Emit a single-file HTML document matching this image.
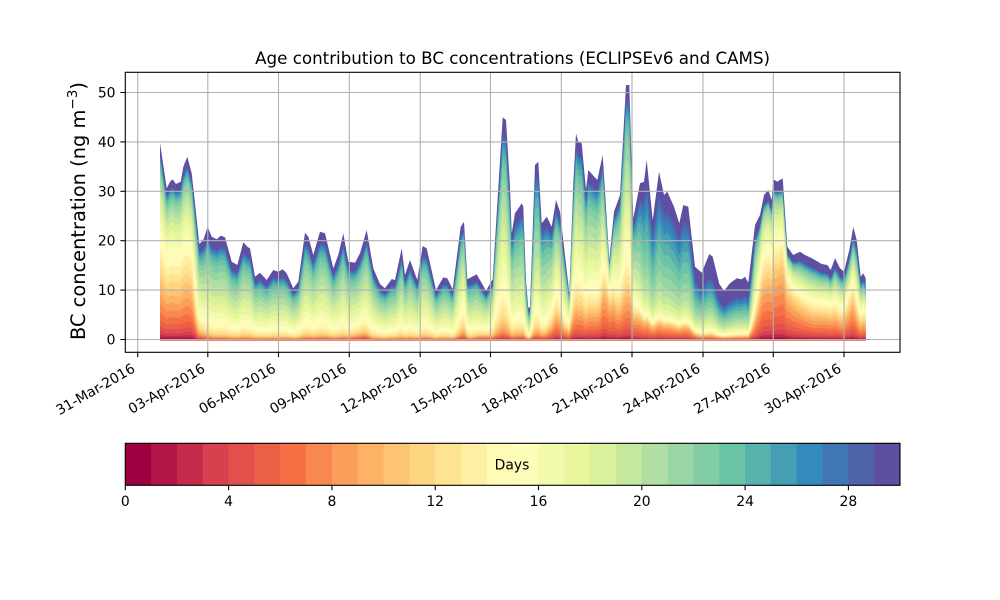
<!DOCTYPE html>
<html><head><meta charset="utf-8">
<style>
html,body{margin:0;padding:0;background:#fff;}
svg{display:block;font-family:"DejaVu Sans","Liberation Sans",sans-serif;}
</style></head>
<body>
<svg id="s" width="1000" height="600" viewBox="0 0 1000 600" xmlns="http://www.w3.org/2000/svg">
<rect width="1000" height="600" fill="#fff"/>
<g id="data"></g>
<rect x="160" y="339.6" width="705.7" height="1.3" fill="#f07a50"/>
<g stroke="#b0b0b0" stroke-width="1.1" fill="none">
<line x1="137.7" y1="72.3" x2="137.7" y2="352.3"/>
<line x1="207.8" y1="72.3" x2="207.8" y2="352.3"/>
<line x1="278.5" y1="72.3" x2="278.5" y2="352.3"/>
<line x1="349.3" y1="72.3" x2="349.3" y2="352.3"/>
<line x1="420.2" y1="72.3" x2="420.2" y2="352.3"/>
<line x1="490.5" y1="72.3" x2="490.5" y2="352.3"/>
<line x1="561.3" y1="72.3" x2="561.3" y2="352.3"/>
<line x1="632.0" y1="72.3" x2="632.0" y2="352.3"/>
<line x1="703.0" y1="72.3" x2="703.0" y2="352.3"/>
<line x1="773.3" y1="72.3" x2="773.3" y2="352.3"/>
<line x1="844.0" y1="72.3" x2="844.0" y2="352.3"/>
<line x1="125.3" y1="339.5" x2="900" y2="339.5"/>
<line x1="125.3" y1="290.1" x2="900" y2="290.1"/>
<line x1="125.3" y1="240.7" x2="900" y2="240.7"/>
<line x1="125.3" y1="191.3" x2="900" y2="191.3"/>
<line x1="125.3" y1="141.9" x2="900" y2="141.9"/>
<line x1="125.3" y1="92.5" x2="900" y2="92.5"/>
</g>
<rect x="125.3" y="72.3" width="774.7" height="280" fill="none" stroke="#000" stroke-width="1.1"/>
<g stroke="#000" stroke-width="1.1">
<line x1="137.7" y1="352.3" x2="137.7" y2="357.2"/>
<line x1="207.8" y1="352.3" x2="207.8" y2="357.2"/>
<line x1="278.5" y1="352.3" x2="278.5" y2="357.2"/>
<line x1="349.3" y1="352.3" x2="349.3" y2="357.2"/>
<line x1="420.2" y1="352.3" x2="420.2" y2="357.2"/>
<line x1="490.5" y1="352.3" x2="490.5" y2="357.2"/>
<line x1="561.3" y1="352.3" x2="561.3" y2="357.2"/>
<line x1="632.0" y1="352.3" x2="632.0" y2="357.2"/>
<line x1="703.0" y1="352.3" x2="703.0" y2="357.2"/>
<line x1="773.3" y1="352.3" x2="773.3" y2="357.2"/>
<line x1="844.0" y1="352.3" x2="844.0" y2="357.2"/>
<line x1="120.4" y1="339.5" x2="125.3" y2="339.5"/>
<line x1="120.4" y1="290.1" x2="125.3" y2="290.1"/>
<line x1="120.4" y1="240.7" x2="125.3" y2="240.7"/>
<line x1="120.4" y1="191.3" x2="125.3" y2="191.3"/>
<line x1="120.4" y1="141.9" x2="125.3" y2="141.9"/>
<line x1="120.4" y1="92.5" x2="125.3" y2="92.5"/>
</g>
<g font-size="13.9" fill="#000" text-anchor="end">
<text x="115.5" y="344.5">0</text>
<text x="115.5" y="295.1">10</text>
<text x="115.5" y="245.7">20</text>
<text x="115.5" y="196.3">30</text>
<text x="115.5" y="146.9">40</text>
<text x="115.5" y="97.5">50</text>
</g>
<g font-size="13.9" fill="#000" text-anchor="end">
<text x="136.0" y="371.2" transform="rotate(-30 136.0 371.2)">31-Mar-2016</text>
<text x="206.1" y="371.2" transform="rotate(-30 206.1 371.2)">03-Apr-2016</text>
<text x="276.8" y="371.2" transform="rotate(-30 276.8 371.2)">06-Apr-2016</text>
<text x="347.6" y="371.2" transform="rotate(-30 347.6 371.2)">09-Apr-2016</text>
<text x="418.5" y="371.2" transform="rotate(-30 418.5 371.2)">12-Apr-2016</text>
<text x="488.8" y="371.2" transform="rotate(-30 488.8 371.2)">15-Apr-2016</text>
<text x="559.6" y="371.2" transform="rotate(-30 559.6 371.2)">18-Apr-2016</text>
<text x="630.3" y="371.2" transform="rotate(-30 630.3 371.2)">21-Apr-2016</text>
<text x="701.3" y="371.2" transform="rotate(-30 701.3 371.2)">24-Apr-2016</text>
<text x="771.6" y="371.2" transform="rotate(-30 771.6 371.2)">27-Apr-2016</text>
<text x="842.3" y="371.2" transform="rotate(-30 842.3 371.2)">30-Apr-2016</text>
</g>
<text x="512.6" y="64" font-size="16.7" text-anchor="middle" fill="#000">Age contribution to BC concentrations (ECLIPSEv6 and CAMS)</text>
<text transform="translate(85,211) rotate(-90)" font-size="19.4" text-anchor="middle" fill="#000">BC concentration (ng m<tspan dy="-8" font-size="13.6">−3</tspan><tspan dy="8">)</tspan></text>
<g id="cbar"></g>
<rect x="125.3" y="443.3" width="774.7" height="42" fill="none" stroke="#000" stroke-width="1.1"/>
<text x="512" y="469.5" font-size="13.9" text-anchor="middle" fill="#000">Days</text>
<g stroke="#000" stroke-width="1.1">
<line x1="125.3" y1="485.3" x2="125.3" y2="490.2"/>
<line x1="228.6" y1="485.3" x2="228.6" y2="490.2"/>
<line x1="331.9" y1="485.3" x2="331.9" y2="490.2"/>
<line x1="435.2" y1="485.3" x2="435.2" y2="490.2"/>
<line x1="538.5" y1="485.3" x2="538.5" y2="490.2"/>
<line x1="641.8" y1="485.3" x2="641.8" y2="490.2"/>
<line x1="745.1" y1="485.3" x2="745.1" y2="490.2"/>
<line x1="848.4" y1="485.3" x2="848.4" y2="490.2"/>
</g>
<g font-size="13.9" text-anchor="middle" fill="#000">
<text x="125.3" y="506">0</text>
<text x="228.6" y="506">4</text>
<text x="331.9" y="506">8</text>
<text x="435.2" y="506">12</text>
<text x="538.5" y="506">16</text>
<text x="641.8" y="506">20</text>
<text x="745.1" y="506">24</text>
<text x="848.4" y="506">28</text>
</g>
</svg>
<script>
(function(){
var NS="http://www.w3.org/2000/svg";
var spec=[[158,1,66],[213,62,79],[244,109,67],[253,174,97],[254,224,139],[255,255,191],[230,245,152],[171,221,164],[102,194,165],[50,136,189],[94,79,162]];
function cm(t){t=Math.max(0,Math.min(1,t));var s=t*10,i=Math.min(9,Math.floor(s)),f=s-i,a=spec[i],b=spec[i+1];
return "rgb("+[0,1,2].map(function(j){return Math.round(a[j]+(b[j]-a[j])*f);}).join(",")+")";}
var TC=[[160,142.7],[166.7,188.3],[170,181.7],[172.7,179.3],[176,184],[180.7,181.7],[183.3,166.7],[187.3,156.7],[191.7,173.3],[195,203.3],[199.3,244],[203.3,240],[207.7,226.7],[211.7,236.7],[216.7,239.3],[220.7,235.7],[225,237.3],[231.7,261.7],[237.3,265],[243.3,242.3],[247.3,246.7],[250,248.3],[255,276.7],[260,272.7],[266.7,280],[273.3,270],[278.3,271.7],[282.7,269.3],[286.7,273.3],[293.3,288.3],[298.3,281.7],[305,232.7],[308.3,236.7],[313.3,255],[320,231.7],[325,233.3],[333.3,268.3],[338.3,255],[343.3,233.3],[348.3,261.7],[355,262.7],[360,253.3],[366.7,230],[373.3,268.3],[380,284],[385,288.3],[391.7,279],[395,280],[401.7,248.3],[405,275],[410,260],[417.3,280],[422.7,246],[426.7,248.3],[436,290],[443.3,277.3],[447.3,278.3],[452.7,289.3],[460.7,226.7],[464,221.7],[467.3,279.3],[476.7,274.3],[486,290.7],[492.7,279.3],[496.7,213.3],[502.7,117.3],[506,120],[510,186.7],[511.7,233.3],[515,213.3],[521.7,203.3],[523.3,206.7],[526,280],[528.3,308.3],[530,306.7],[535,165],[538.3,161.7],[541.7,223.3],[546.7,216.7],[551.7,226.7],[556,200],[560,211.7],[569.3,293.3],[573.3,183.3],[576,133.3],[578.3,141.7],[581.7,143.3],[586,190],[588.3,170],[597.3,180],[602.7,155],[609.3,260],[614,211.7],[620,195],[626,85],[629.3,85],[633.3,218.3],[640,183.3],[644,181.7],[646.7,160],[652.7,220],[659,171.7],[664,195],[667.3,191.7],[674,206.7],[679.3,223.3],[683.3,205],[688.3,206.7],[695,266.7],[701.7,272.7],[709.3,254],[712.7,256.7],[719.3,284],[724,290.7],[730,283.3],[736.7,278.3],[741.7,279.3],[745,276.7],[748.3,282.7],[755,225],[760,215],[764,195],[768.3,190],[771.7,200],[773.3,179.3],[777.3,181.7],[782.7,178.3],[787.3,246.7],[793.3,255],[800,251.7],[805,255],[810,257.3],[815,260],[821.7,264],[827.3,265],[830.7,270],[835,258.3],[840,268.3],[844,271.7],[849.3,250],[853.3,226.7],[856.7,240],[860.7,276.7],[863.3,273.3],[865.7,278.3]];
var K=[[160,.20,.05,16,3.5],[192,.20,.05,16,3.5],[198,.05,.08,18.5,3],[206,.03,.10,19.5,2.7],[214,.01,.11,19.5,2.7],[345,.015,.11,19.5,2.7],[363,.05,.11,19,2.7],[372,.01,.11,19.5,2.7],[455,.015,.11,19.5,2.7],[464,.04,.08,18,2.8],[470,.01,.11,19.5,2.7],[486,.06,.11,19,2.7],[494,.02,.09,18.5,3],[503,.02,.08,18.5,3],[512,.02,.10,20,3],[546,.03,.08,20.5,3],[556,.15,.08,18.5,3],[565,.10,.08,19,3],[570,.13,.08,18,3],[581,.13,.07,19,3],[600,.16,.07,19,3],[609,.42,.05,17,3],[616,.22,.06,18.5,3],[626,.15,.06,18.5,3],[634,.18,.08,20,3],[645,.11,.13,23.5,2.7],[690,.10,.13,23.5,2.7],[700,.04,.25,23,3.5],[724,.03,.33,23,3.5],[748,.04,.30,23,3.5],[755,.15,.12,19,3],[762,.35,.07,16,3],[778,.40,.07,16,3],[790,.45,.08,16,3.5],[800,.30,.10,17,4],[812,.22,.11,17,4],[830,.24,.11,17,4],[840,.18,.11,17,4],[852,.28,.09,17,4],[858,.15,.10,18,4],[865.7,.19,.11,17,4]];
function lt(x){for(var i=0;i<TC.length-1;i++){if(x<=TC[i+1][0]){var a=TC[i],b=TC[i+1],f=(x-a[0])/(b[0]-a[0]);return a[1]+(b[1]-a[1])*f;}}return TC[TC.length-1][1];}
function lk(x){if(x<=K[0][0])return K[0].slice(1);for(var i=0;i<K.length-1;i++){if(x<=K[i+1][0]){var a=K[i],b=K[i+1],f=(x-a[0])/(b[0]-a[0]);return [1,2,3,4].map(function(j){return a[j]+(b[j]-a[j])*f;});}}return K[K.length-1].slice(1);}
function L(z){return 1/(1+Math.exp(-z));}
var BASE=339.6, YC=7.2, YW=1.8;
var xsObj={};for(var x=160;x<865.7;x+=1){xsObj[x.toFixed(2)]=1;}TC.forEach(function(p){xsObj[p[0].toFixed(2)]=1;});
var xs=Object.keys(xsObj).map(Number).sort(function(a,b){return a-b;});
var B=[];for(var k=0;k<=30;k++)B.push([]);
var ly0=L(-YC/YW),ly29=L((29-YC)/YW);
xs.forEach(function(x){var yt=lt(x),h=BASE-yt,P=lk(x),p=P[0],q=P[1],m=P[2],w=P[3];
var lo0=L((0-m)/w),lo29=L((29-m)/w);
for(var k=1;k<=30;k++){var F;if(k>=30)F=1;else{var fy=(L((k-YC)/YW)-ly0)/(ly29-ly0);var g=(L((k-m)/w)-lo0)/(lo29-lo0);F=p*fy+(1-p-q)*g;}
B[k].push([x,BASE-h*F]);}});
var gd=document.getElementById("data");
for(var k=30;k>=1;k--){var pts=B[k];var d="M"+pts[0][0]+","+BASE;for(var i=0;i<pts.length;i++){d+="L"+pts[i][0]+","+pts[i][1].toFixed(2);}d+="L"+pts[pts.length-1][0]+","+BASE+"Z";
var path=document.createElementNS(NS,"path");path.setAttribute("d",d);path.setAttribute("fill",cm((k-1)/29));gd.appendChild(path);}
var cb=document.getElementById("cbar");var bw=774.7/30;
for(var i=0;i<30;i++){var r=document.createElementNS(NS,"rect");r.setAttribute("x",(125.3+i*bw).toFixed(2));r.setAttribute("y","443.3");r.setAttribute("width",(bw+(i<29?0.6:0)).toFixed(2));r.setAttribute("height","42");r.setAttribute("fill",cm(i/29));cb.appendChild(r);}
})();
</script>
</body></html>
